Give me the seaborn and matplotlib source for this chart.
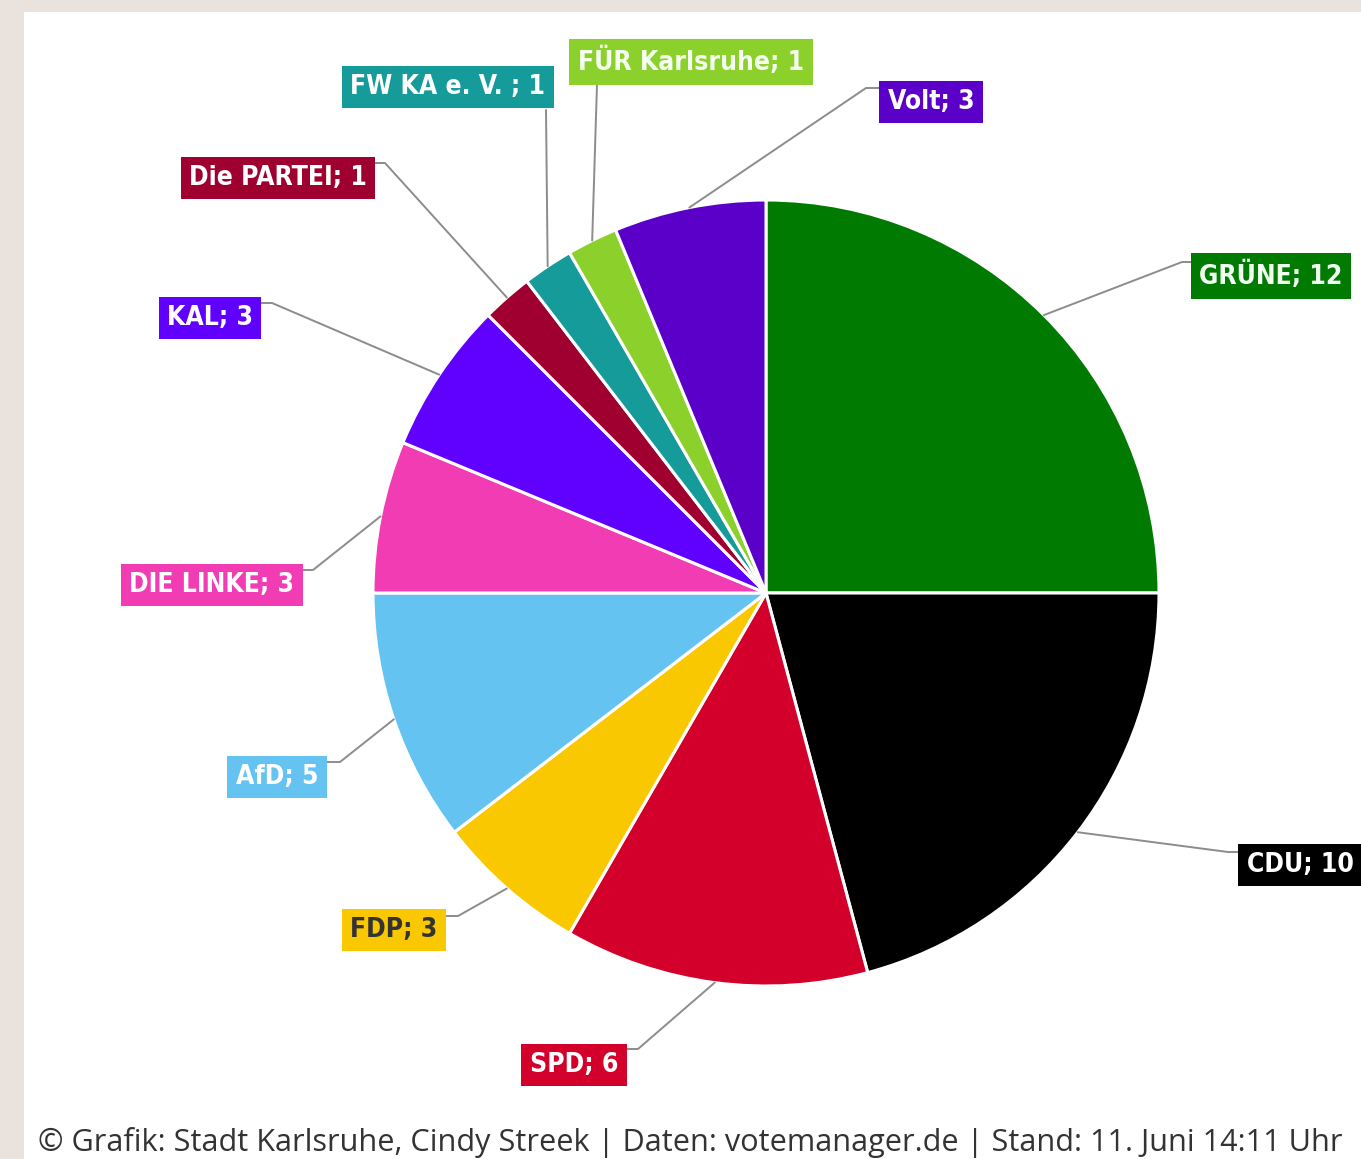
import numpy as np
import matplotlib.pyplot as plt
import seaborn as sns
from matplotlib.patches import Rectangle

# Sitzverteilung Gemeinderat Karlsruhe
parties = ["GRÜNE", "CDU", "SPD", "FDP", "AfD", "DIE LINKE", "KAL",
           "Die PARTEI", "FW KA e. V. ", "FÜR Karlsruhe", "Volt"]
seats = [12, 10, 6, 3, 5, 3, 3, 1, 1, 1, 3]
colors = ["#007a00", "#000000", "#d2002a", "#f9c800", "#64c3f1", "#f23cb4",
          "#6000ff", "#a0002f", "#169b9b", "#8bd02b", "#5a00c8"]
text_colors = ["#f0fff0", "#ffffff", "#ffffff", "#333333", "#ffffff", "#ffffff",
               "#ffffff", "#ffffff", "#ffffff", "#f4fff0", "#ffffff"]
footer = "© Grafik: Stadt Karlsruhe, Cindy Streek | Daten: votemanager.de | Stand: 11. Juni 14:11 Uhr"

# layout in pixels (label centre, knee of leader line, end at the box)
label_pos = [(1271, 276), (1300, 865), (574, 1065), (394, 930), (277, 777), (212, 585),
             (210, 318), (278, 178), (448, 87), (691, 62), (931, 102)]
knees = [(1182, 262), (1228, 852), (638, 1049), (458, 916), (340, 762), (313, 570),
         (272, 303), (385, 163), (546, 110), (597, 84), (866, 88)]
ends = [(1195, 262), (1241, 852), (623, 1049), (442, 916), (326, 762), (297, 570),
        (259, 303), (370, 163), (546, 110), (597, 84), (880, 88)]

W, H = 1361, 1159
cx, cy, R = 766, 593, 393

sns.set_theme(style="white")

fig = plt.figure(figsize=(W / 100, H / 100), dpi=100, facecolor="#e9e2dd")
ax = fig.add_axes([0, 0, 1, 1])
ax.set_facecolor("#e9e2dd")
ax.add_patch(Rectangle((24, 12), W, H, facecolor="white", edgecolor="none", zorder=0))

# y axis runs downwards, so start at -90 and go counterclockwise in data = clockwise on screen
wedges, _ = ax.pie(seats, colors=colors, startangle=-90, counterclock=True,
                   center=(cx, cy), radius=R,
                   wedgeprops=dict(edgecolor="white", linewidth=2.2))
ax.set_xlim(0, W)
ax.set_ylim(H, 0)
ax.set_aspect("equal")
ax.axis("off")

for w, name, n, c, tc, (lx, ly), (kx, ky), (ex, ey) in zip(
        wedges, parties, seats, colors, text_colors, label_pos, knees, ends):
    mid = np.deg2rad((w.theta1 + w.theta2) / 2)
    px, py = cx + R * np.cos(mid), cy + R * np.sin(mid)
    ax.plot([px, kx, ex], [py, ky, ey], color="#8c8c8c", lw=1.4, zorder=1)
    ax.text(lx, ly, f"{name}; {n}", ha="center", va="center", color=tc,
            fontsize=19, fontweight="bold", family="DejaVu Sans",
            fontstretch="condensed", zorder=3,
            bbox=dict(boxstyle="square,pad=0.32", facecolor=c, edgecolor="none"))

ax.text(38, 1142, footer, ha="left", va="center", color="#333333",
        fontsize=22.1, family=["Open Sans", "DejaVu Sans"])

fig.savefig("out.png", dpi=100, facecolor=fig.get_facecolor())
